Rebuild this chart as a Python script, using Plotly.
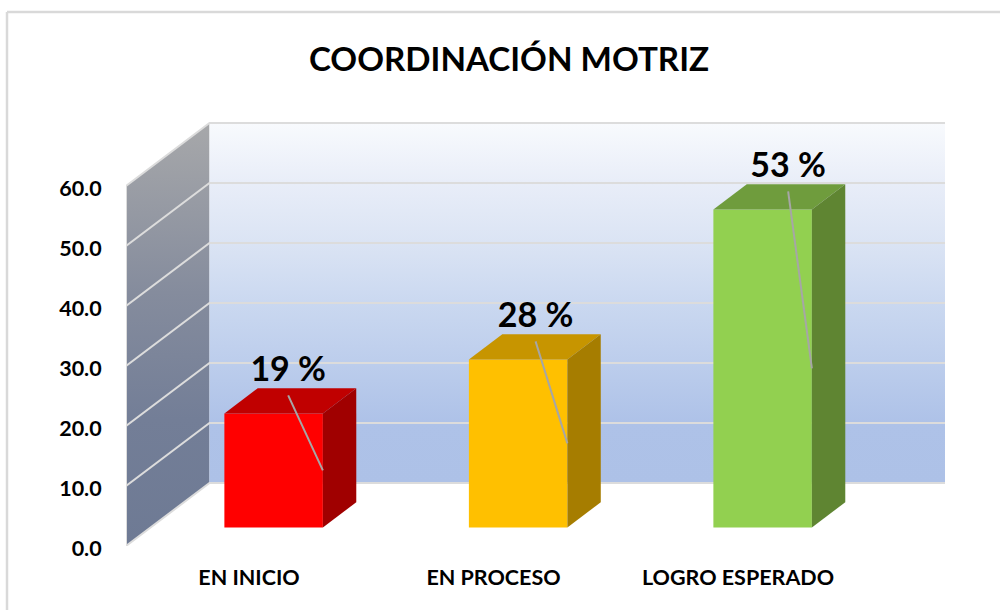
import plotly.graph_objects as go

TITLE = "COORDINACIÓN MOTRIZ"
categories = ["EN INICIO", "EN PROCESO", "LOGRO ESPERADO"]
values = [19, 28, 53]
value_labels = ["19 %", "28 %", "53 %"]
y_ticks = [0, 10, 20, 30, 40, 50, 60]

front_colors = ["#ff0000", "#ffc000", "#92d050"]
top_colors = ["#c00000", "#c79500", "#6f9c3d"]
side_colors = ["#a00000", "#a67d00", "#5f8532"]

W, H = 1000, 610
ML, MR, MT, MB = 126, 55, 120, 64
CAT_PX = 244.5
PX_PER_UNIT = 6.0
X0 = (ML - 249) / CAT_PX
X1 = (W - MR - 249) / CAT_PX
Y1 = (H - MT - MB) / PX_PER_UNIT
DEPTH_X = 83.5 / CAT_PX
DEPTH_Y = 63.0 / PX_PER_UNIT
BAR_W = 98.5 / CAT_PX
D_FRONT, D_BACK = 0.295, 0.695
BAR_SHIFT = D_FRONT * DEPTH_X


def px(x, d=0.0):
    return x + d * DEPTH_X


def py(v, d=0.0):
    return v + d * DEPTH_Y


def poly(xs, ys, color, **kw):
    return go.Scatter(x=xs + xs[:1], y=ys + ys[:1], mode="lines", fill="toself",
                      fillcolor=color, line=dict(width=0), hoverinfo="skip",
                      showlegend=False, **kw)


def line(xs, ys, color, width):
    return go.Scatter(x=xs, y=ys, mode="lines", line=dict(color=color, width=width),
                      hoverinfo="skip", showlegend=False)


fig = go.Figure()
YMAX = y_ticks[-1]
left = X0

# side wall
fig.add_trace(go.Scatter(
    x=[px(left), px(left, 1), px(left, 1), px(left), px(left)],
    y=[py(0), py(0, 1), py(YMAX, 1), py(YMAX), py(0)],
    mode="lines", fill="toself", line=dict(width=0), hoverinfo="skip", showlegend=False,
    fillcolor="#888888",
    fillgradient=dict(type="vertical", colorscale=[
        [0.0, "#6e7a94"], [0.3, "#737e97"], [0.6, "#858c9d"], [1.0, "#a7a8aa"]]),
))
# back wall
fig.add_trace(go.Scatter(
    x=[px(left, 1), X1, X1, px(left, 1), px(left, 1)],
    y=[py(0, 1), py(0, 1), py(YMAX, 1), py(YMAX, 1), py(0, 1)],
    mode="lines", fill="toself", line=dict(width=0), hoverinfo="skip", showlegend=False,
    fillcolor="#cccccc",
    fillgradient=dict(type="vertical", colorscale=[
        [0.0, "#adc1e7"], [0.17, "#aec2e8"], [0.33, "#bccdec"], [0.5, "#cad8f0"],
        [0.67, "#dbe4f4"], [0.83, "#e8edf8"], [1.0, "#f8fafd"]]),
))
# grid lines
for t in y_ticks:
    fig.add_trace(line([px(left), px(left, 1), X1], [py(t), py(t, 1), py(t, 1)], "#dcdcdc", 2))
fig.add_trace(line([px(left), px(left)], [py(0), py(YMAX)], "#dcdcdc", 2))

# bars
for i, v in enumerate(values):
    xl = i + BAR_SHIFT - BAR_W / 2
    xr = i + BAR_SHIFT + BAR_W / 2
    dd = D_BACK - D_FRONT
    b = py(0, D_FRONT)
    t = py(v, D_FRONT)
    fig.add_trace(poly([xl, xr, xr, xl], [b, b, t, t], front_colors[i]))
    fig.add_trace(poly([xl, xr, px(xr, dd), px(xl, dd)],
                       [t, t, t + dd * DEPTH_Y, t + dd * DEPTH_Y], top_colors[i]))
    fig.add_trace(poly([xr, px(xr, dd), px(xr, dd), xr],
                       [b, b + dd * DEPTH_Y, t + dd * DEPTH_Y, t], side_colors[i]))

# leader lines and value labels
for i, v in enumerate(values):
    cx = i + BAR_SHIFT
    lx = cx + 0.0344 + 0.00132 * v
    fig.add_trace(line([lx, cx + BAR_W / 2], [py(v, D_FRONT) + 3, py(v / 2, D_FRONT)], "#a6a6a6", 2))
    fig.add_trace(go.Scatter(
        x=[lx], y=[py(v, D_FRONT) + 6.8], mode="text", text=[value_labels[i]],
        textposition="middle center", hoverinfo="skip", showlegend=False,
        textfont=dict(family="Lato", size=34, color="#000000", weight="bold"),
    ))

fig.update_layout(
    width=W, height=H,
    margin=dict(l=ML, r=MR, t=MT, b=MB, pad=0),
    paper_bgcolor="#ffffff", plot_bgcolor="#ffffff",
    showlegend=False,
    title=dict(text=TITLE, x=0.509, xanchor="center", y=0.902, yanchor="middle",
               font=dict(family="Lato", size=33.2, color="#000000", weight="bold")),
    xaxis=dict(range=[X0, X1], showgrid=False, zeroline=False, showline=False,
               tickmode="array", tickvals=list(range(len(categories))), ticktext=categories,
               ticks="outside", ticklen=12, tickcolor="rgba(0,0,0,0)",
               tickfont=dict(family="Lato", size=21.5, color="#000000", weight="bold")),
    yaxis=dict(range=[0, Y1], showgrid=False, zeroline=False, showline=False,
               tickmode="array", tickvals=y_ticks, ticktext=[f"{t:.1f}" for t in y_ticks],
               ticks="outside", ticklen=19, tickcolor="rgba(0,0,0,0)", ticklabelshift=2,
               tickfont=dict(family="Lato", size=21.5, color="#000000", weight="bold")),
    shapes=[
        dict(type="line", xref="paper", yref="paper",
             x0=(7 - ML) / (W - ML - MR), x1=(W - ML) / (W - ML - MR),
             y0=(H - MB - 12) / (H - MT - MB), y1=(H - MB - 12) / (H - MT - MB),
             line=dict(color="#d9d9d9", width=2.5)),
        dict(type="line", xref="paper", yref="paper",
             x0=(7 - ML) / (W - ML - MR), x1=(7 - ML) / (W - ML - MR),
             y0=(H - MB - 12) / (H - MT - MB), y1=-MB / (H - MT - MB),
             line=dict(color="#d9d9d9", width=2.5)),
    ],
)

fig.write_html("out.html", config=dict(displayModeBar=False),
               post_script="document.body.style.margin='0';")
